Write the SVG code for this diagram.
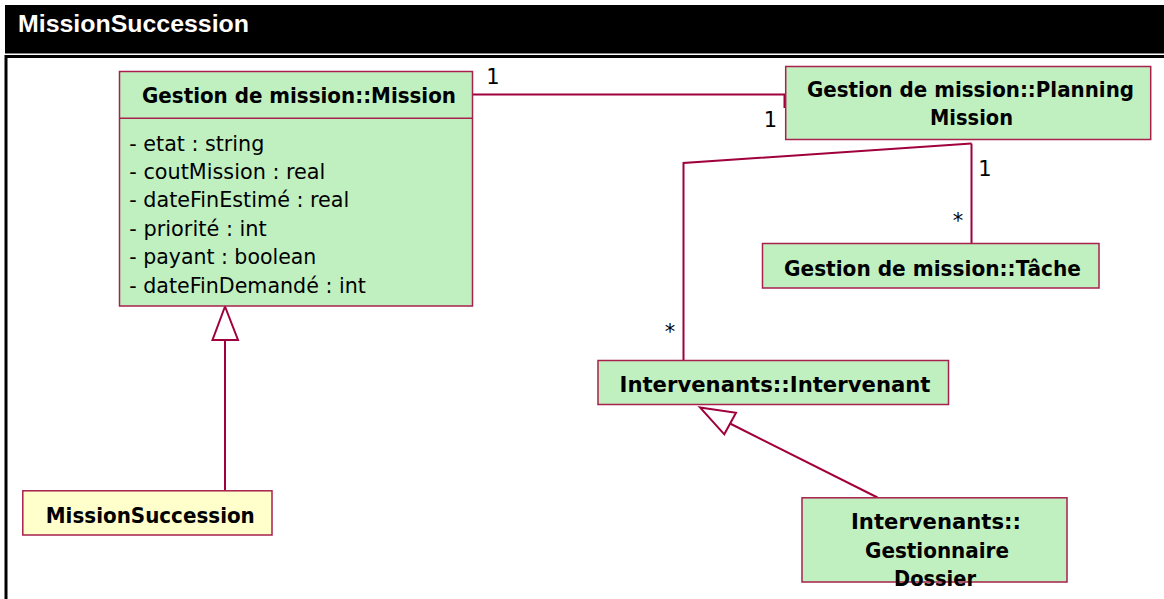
<svg xmlns="http://www.w3.org/2000/svg" width="1164" height="599" viewBox="0 0 1164 599">
<style>
.box{fill:#C0F0C0;stroke:#A8204C;stroke-width:1.5}
.ybox{fill:#FFFFCC;stroke:#A8204C;stroke-width:1.5}
.t{font-family:"DejaVu Sans Condensed","DejaVu Sans",Verdana,sans-serif;font-size:22px;font-weight:bold;fill:#000;text-anchor:middle}
.a{font-family:"DejaVu Sans Condensed","DejaVu Sans",Verdana,sans-serif;font-size:22px;fill:#000}
.m{font-family:"DejaVu Sans",Verdana,sans-serif;font-size:21px;fill:#000;text-anchor:middle}
.c{fill:none;stroke:#A0003C;stroke-width:2}
.h{fill:#fff;stroke:#A0003C;stroke-width:2}
</style>
<rect x="0" y="0" width="1164" height="599" fill="#fff"/>
<g id="frame">
<rect x="5" y="5" width="1159" height="48.5" fill="#000"/>
<text x="18" y="32" font-family="'Liberation Sans',Arial,sans-serif" font-size="23" font-weight="bold" fill="#fff" textLength="231" lengthAdjust="spacingAndGlyphs">MissionSuccession</text>
<rect x="6" y="56.5" width="1170" height="560" fill="none" stroke="#000" stroke-width="3"/>
</g>
<g id="connectors">
<polyline class="c" points="473,94.5 784.5,94.5 784.5,108"/>
<polyline class="c" points="971.5,143.5 683.5,163 683.5,360"/>
<line class="c" x1="971.5" y1="143.5" x2="971.5" y2="243"/>
<line class="c" x1="225" y1="340" x2="225" y2="490.5"/>
<polygon class="h" points="225,306.5 212.5,340 238,340"/>
<line class="c" x1="730" y1="423.5" x2="877.5" y2="497.5"/>
<polygon class="h" points="700,407.5 736,412.7 724.3,434.3"/>
<text class="m" x="493" y="84">1</text>
<text class="m" x="770.5" y="127">1</text>
<text class="m" x="985" y="176">1</text>
<text class="m" x="958" y="228">*</text>
<text class="m" x="670" y="339">*</text>
</g>
<g id="mission">
<rect class="box" x="119.5" y="71.5" width="353" height="234.5"/>
<line x1="119.5" y1="118.3" x2="472.5" y2="118.3" stroke="#A8204C" stroke-width="1.5"/>
<text class="t" x="299" y="103.3" textLength="314" lengthAdjust="spacingAndGlyphs">Gestion de mission::Mission</text>
<text class="a" x="129.3" y="150.7" textLength="135" lengthAdjust="spacingAndGlyphs">- etat : string</text>
<text class="a" x="129.3" y="179" textLength="196" lengthAdjust="spacingAndGlyphs">- coutMission : real</text>
<text class="a" x="129.3" y="207.4" textLength="220" lengthAdjust="spacingAndGlyphs">- dateFinEstimé : real</text>
<text class="a" x="129.3" y="235.8" textLength="137.5" lengthAdjust="spacingAndGlyphs">- priorité : int</text>
<text class="a" x="129.3" y="264.2" textLength="187" lengthAdjust="spacingAndGlyphs">- payant : boolean</text>
<text class="a" x="129.3" y="292.6" textLength="236.5" lengthAdjust="spacingAndGlyphs">- dateFinDemandé : int</text>
</g>
<g id="planning">
<rect class="box" x="785.7" y="66.5" width="365" height="73"/>
<text class="t" x="970.5" y="97.3" textLength="327" lengthAdjust="spacingAndGlyphs">Gestion de mission::Planning</text>
<text class="t" x="971.5" y="125" textLength="83" lengthAdjust="spacingAndGlyphs">Mission</text>
</g>
<g id="tache">
<rect class="box" x="762.5" y="243.5" width="336.5" height="44.5"/>
<text class="t" x="932.5" y="276" textLength="297" lengthAdjust="spacingAndGlyphs">Gestion de mission::Tâche</text>
</g>
<g id="intervenant">
<rect class="box" x="598" y="360.5" width="350.5" height="44"/>
<text class="t" x="775" y="391.7" textLength="311" lengthAdjust="spacingAndGlyphs">Intervenants::Intervenant</text>
</g>
<g id="missionsuccession">
<rect class="ybox" x="22.8" y="490.8" width="249.2" height="44.2"/>
<text class="t" x="150.3" y="522.7" textLength="209" lengthAdjust="spacingAndGlyphs">MissionSuccession</text>
</g>
<g id="gestionnaire">
<rect class="box" x="802" y="497.8" width="265" height="84.2"/>
<text class="t" x="936" y="529.3" textLength="170" lengthAdjust="spacingAndGlyphs">Intervenants::</text>
<text class="t" x="937" y="558" textLength="144" lengthAdjust="spacingAndGlyphs">Gestionnaire</text>
<text class="t" x="935" y="585.7" textLength="82" lengthAdjust="spacingAndGlyphs">Dossier</text>
</g>
</svg>
